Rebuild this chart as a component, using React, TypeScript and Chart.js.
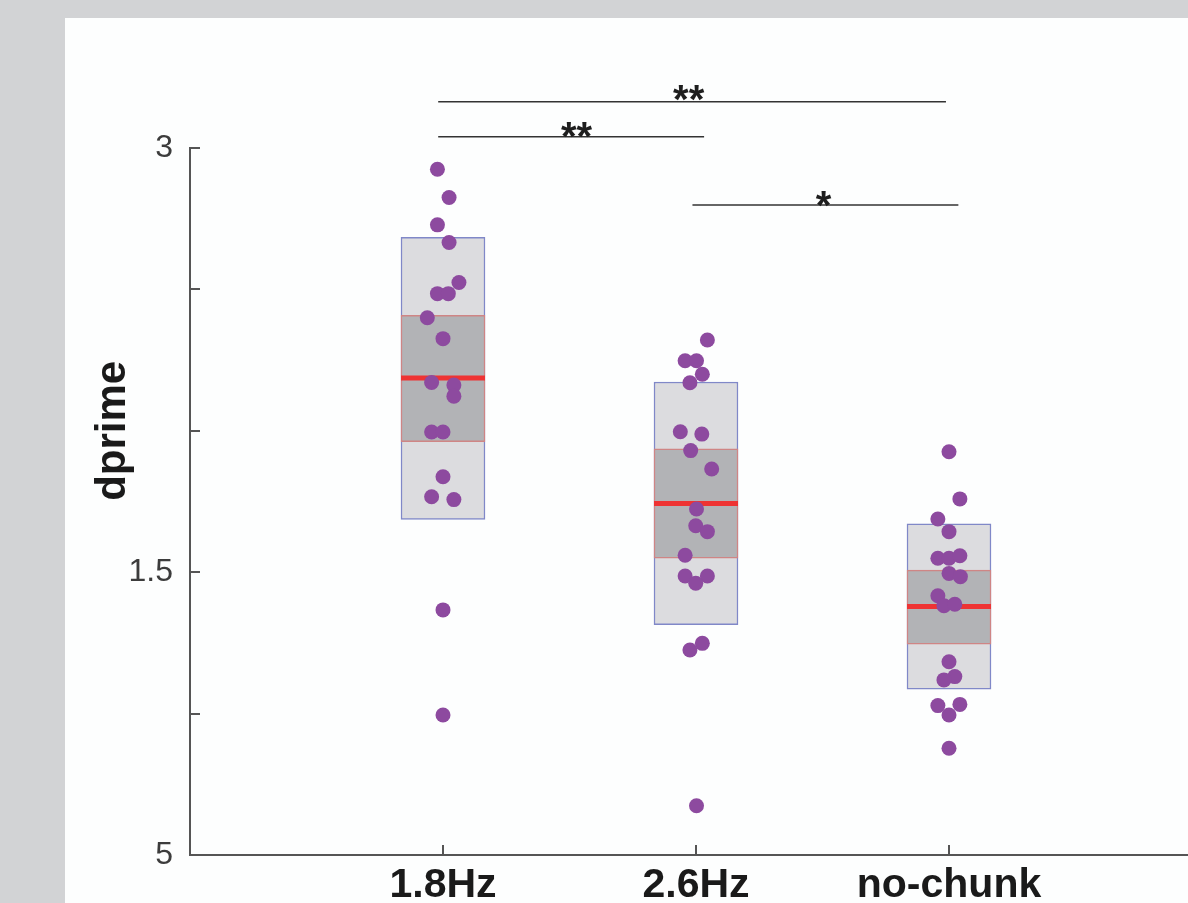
import React, { useEffect, useRef } from 'react';
import { Chart, registerables } from 'chart.js';

Chart.register(...registerables);

// ---- data ----
const categories = ['1.8Hz', '2.6Hz', 'no-chunk'];
const categoryPositions = [1, 2, 3];

const yTickValues = [0, 0.6, 1.2, 1.8, 2.4, 3];
const yTickLabels = ['5', '', '1.5', '', '', '3'];
const yTitle = 'dprime';

const values18 = [2.91, 2.79, 2.674, 2.599, 2.429, 2.382, 2.382, 2.28, 2.191, 2.005, 1.994, 1.947, 1.795, 1.795, 1.605, 1.52, 1.508, 1.04, 0.594];
const jitter18 = [-0.022, 0.024, -0.022, 0.024, 0.063, -0.022, 0.021, -0.062, 0, -0.045, 0.043, 0.043, -0.045, 0, 0, -0.045, 0.043, 0, 0];

const values26 = [2.185, 2.097, 2.097, 2.04, 2.004, 1.796, 1.786, 1.716, 1.638, 1.468, 1.397, 1.372, 1.272, 1.184, 1.184, 1.153, 0.898, 0.87, 0.209];
const jitter26 = [0.045, -0.043, 0.002, 0.025, -0.024, -0.062, 0.023, -0.021, 0.062, 0.002, -0.001, 0.045, -0.043, -0.043, 0.045, -0.001, 0.025, -0.024, 0.002];

const valuesNo = [1.711, 1.511, 1.426, 1.372, 1.259, 1.259, 1.27, 1.195, 1.181, 1.1, 1.058, 1.064, 0.82, 0.757, 0.743, 0.634, 0.639, 0.594, 0.453];
const jitterNo = [0, 0.043, -0.044, 0, -0.044, 0, 0.043, 0, 0.045, -0.044, -0.02, 0.023, 0, 0.023, -0.02, -0.044, 0.043, 0, 0];

const outerLow = [1.424, 0.977, 0.704];
const outerHigh = [2.621, 2.007, 1.405];
const innerLow = [1.754, 1.26, 0.895];
const innerHigh = [2.29, 1.724, 1.209];
const medians = [2.024, 1.492, 1.054];

const sigX1 = [0.981, 0.981, 1.986];
const sigX2 = [2.988, 2.032, 3.037];
const sigY = [3.196, 3.048, 2.758];
const sigLabels = ['**', '**', '*'];
const sigLabelX = [1.971, 1.528, 2.504];
const sigLabelY = [3.246, 3.089, 2.796];

const FONT = '"Liberation Sans", Arial, Helvetica, sans-serif';

const textPlugin = {
  id: 'textLabels',
  afterDatasetsDraw(chart: any) {
    const { ctx, chartArea } = chart;
    const x = chart.scales.x;
    const y = chart.scales.y;
    ctx.save();
    ctx.fillStyle = '#1e1e1e';
    ctx.font = `bold 40px ${FONT}`;
    ctx.textAlign = 'center';
    ctx.textBaseline = 'alphabetic';
    sigLabels.forEach((t, i) => {
      ctx.fillText(t, x.getPixelForValue(sigLabelX[i]), y.getPixelForValue(sigLabelY[i]) + 0.585 * 40);
    });
    ctx.translate(chartArea.left - 65, chartArea.top + 0.4 * (chartArea.bottom - chartArea.top));
    ctx.rotate(-Math.PI / 2);
    ctx.font = `bold 42px ${FONT}`;
    ctx.fillStyle = '#1a1a1a';
    ctx.textBaseline = 'alphabetic';
    ctx.fillText(yTitle, 0, 0);
    ctx.restore();
  },
};

export default function App() {
  const ref = useRef<HTMLCanvasElement>(null);

  useEffect(() => {
    const canvas = ref.current!;
    const groups = [
      { v: values18, j: jitter18 },
      { v: values26, j: jitter26 },
      { v: valuesNo, j: jitterNo },
    ];
    const points: { x: number; y: number }[] = [];
    groups.forEach((g, gi) => {
      g.v.forEach((val, i) => points.push({ x: categoryPositions[gi] + g.j[i], y: val }));
    });

    const bracketSets = sigY.map((yy, i) => ({
      type: 'line' as const,
      data: [
        { x: sigX1[i], y: yy },
        { x: sigX2[i], y: yy },
      ],
      borderColor: '#333333',
      borderWidth: 1.5,
      pointRadius: 0,
      showLine: true,
      clip: false as any,
      order: 0,
    }));

    const chart = new Chart(canvas, {
      type: 'scatter',
      data: {
        datasets: [
          {
            type: 'scatter',
            data: points,
            backgroundColor: '#8d4a9f',
            borderWidth: 0,
            pointRadius: 7.5,
            order: 0,
          },
          {
            type: 'scatter',
            data: categoryPositions.map((c, i) => ({ x: c, y: medians[i] })),
            pointStyle: 'line',
            pointRadius: 42,
            borderColor: '#ee3333',
            backgroundColor: '#ee3333',
            borderWidth: 5,
            order: 1,
          },
          {
            type: 'bar',
            data: categoryPositions.map((c, i) => ({ x: c, y: [innerLow[i], innerHigh[i]] })) as any,
            backgroundColor: '#b2b3b6',
            borderColor: '#cf8585',
            borderWidth: 1.5,
            borderSkipped: false,
            barThickness: 84,
            grouped: false,
            order: 2,
          } as any,
          {
            type: 'bar',
            data: categoryPositions.map((c, i) => ({ x: c, y: [outerLow[i], outerHigh[i]] })) as any,
            backgroundColor: '#dcdcdf',
            borderColor: '#8088c8',
            borderWidth: 1.5,
            borderSkipped: false,
            barThickness: 84,
            grouped: false,
            order: 3,
          } as any,
          ...bracketSets,
        ] as any,
      },
      options: {
        responsive: false,
        animation: false,
        devicePixelRatio: 1,
        events: [],
        layout: { padding: { left: 0, top: 148, right: 58, bottom: 0 } },
        plugins: { legend: { display: false }, tooltip: { enabled: false } },
        scales: {
          x: {
            type: 'linear',
            min: 0,
            max: 4,
            offset: false,
            afterBuildTicks: (scale: any) => {
              scale.ticks = categoryPositions.map((v) => ({ value: v }));
            },
            afterFit: (scale: any) => {
              scale.height = 48;
            },
            ticks: {
              padding: 16,
              maxRotation: 0,
              autoSkip: false,
              color: '#1a1a1a',
              font: { family: FONT, size: 41, weight: 'bold' },
              callback: (_v: any, i: number) => categories[i],
            },
            grid: {
              offset: false,
              drawOnChartArea: false,
              drawTicks: true,
              tickLength: -10,
              color: '#555555',
              lineWidth: 2,
            },
            border: { display: true, color: '#555555', width: 2 },
          },
          y: {
            type: 'linear',
            min: 0,
            max: 3,
            afterBuildTicks: (scale: any) => {
              scale.ticks = yTickValues.map((v) => ({ value: v }));
            },
            afterFit: (scale: any) => {
              scale.width = 190;
            },
            ticks: {
              padding: 27,
              autoSkip: false,
              color: '#3c3c3c',
              font: { family: FONT, size: 32 },
              callback: (_v: any, i: number) => yTickLabels[i],
            },
            grid: {
              drawOnChartArea: false,
              drawTicks: true,
              tickLength: -10,
              color: '#555555',
              lineWidth: 2,
            },
            border: { display: true, color: '#555555', width: 2 },
          },
        },
      } as any,
      plugins: [textPlugin],
    });
    return () => chart.destroy();
  }, []);

  return (
    <div
      style={{
        position: 'fixed',
        left: 0,
        top: 0,
        width: 1188,
        height: 903,
        overflow: 'hidden',
        background: '#d2d3d5',
      }}
    >
      <div style={{ position: 'absolute', left: 65, top: 18, width: 1200, height: 900, background: '#fdfefe' }} />
      <canvas
        ref={ref}
        width={1260}
        height={903}
        style={{ position: 'absolute', left: 0, top: 0, width: 1260, height: 903 }}
      />
    </div>
  );
}
